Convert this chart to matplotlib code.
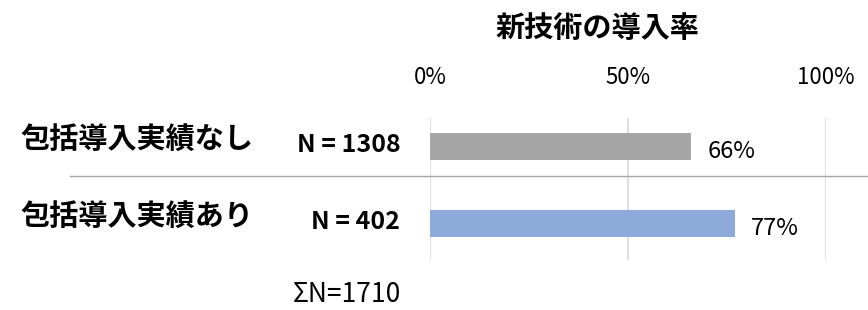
import matplotlib
matplotlib.use('Agg')
import matplotlib.pyplot as plt
from matplotlib.lines import Line2D

plt.rcParams['font.family'] = ['Noto Sans CJK JP', 'DejaVu Sans']

# データ
categories = ['包括導入実績なし', '包括導入実績あり']
n_labels = ['N = 1308', 'N = 402']
rates = [0.66, 0.77]
bar_colors = ['#a5a5a5', '#8eaadb']
total_label = 'ΣN=1710'
title = '新技術の導入率'

W, H = 868, 310
fig = plt.figure(figsize=(W / 100, H / 100), dpi=100)
ax = fig.add_axes([430 / W, 1 - 260 / H, (826 - 430) / W, (260 - 118) / H])

ypos = list(range(len(rates)))
ax.barh(ypos, rates, height=0.35, color=bar_colors, zorder=3)
ax.set_xlim(0, 1)
ax.set_ylim(1.474, -0.37)

# グリッド
ax.set_xticks([0, 0.5, 1.0])
ax.set_xticklabels(['0%', '50%', '100%'], fontsize=16)
ax.xaxis.tick_top()
ax.tick_params(axis='x', length=0, pad=21)
ax.set_yticks([])
ax.grid(True, axis='x', color='#d9d9d9', linewidth=1.2, zorder=0)
for s in ax.spines.values():
    s.set_visible(False)

# 値ラベル
for y, r in zip(ypos, rates):
    ax.text(r + 0.04, y + 0.07, f'{r:.0%}', va='center', ha='left', fontsize=17)

# 左側のラベル
for y, cat, nl in zip(ypos, categories, n_labels):
    ax.text(-1.035, y - 0.1, cat, va='center', ha='left', fontsize=21, fontweight='bold',
            clip_on=False)
    ax.text(-0.075, y - 0.02, nl, va='center', ha='right', fontsize=18, fontweight='bold',
            clip_on=False)

# 区切り線
fig.add_artist(Line2D([70 / W, 1], [1 - 176 / H, 1 - 176 / H], color='#a6a6a6', linewidth=1.0))

fig.text(597 / W, 1 - 28 / H, title, ha='center', va='center', fontsize=21, fontweight='bold')
fig.text(347 / W, 1 - 294 / H, total_label, ha='center', va='center', fontsize=19)

fig.savefig('out.png', dpi=100)
